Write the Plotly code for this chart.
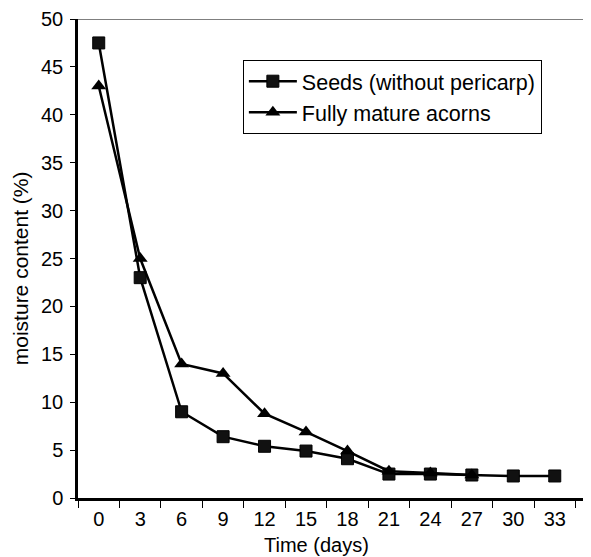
import plotly.graph_objects as go

days = ["0", "3", "6", "9", "12", "15", "18", "21", "24", "27", "30", "33"]
seeds = [47.5, 23.0, 9.0, 6.4, 5.4, 4.9, 4.1, 2.5, 2.5, 2.4, 2.3, 2.3]
acorn_days = ["0", "3", "6", "9", "12", "15", "18", "21", "24", "27"]
acorns = [43.0, 25.0, 14.0, 13.0, 8.8, 6.9, 4.9, 2.8, 2.6, 2.4]

font = "Liberation Sans, Arial, sans-serif"

fig = go.Figure()
fig.add_trace(go.Scatter(
    x=days, y=seeds, name="Seeds (without pericarp)", mode="lines+markers",
    line=dict(color="black", width=2.5),
    marker=dict(symbol="square", size=12, color="#111", line=dict(color="black", width=1)),
))
fig.add_trace(go.Scatter(
    x=acorn_days, y=acorns, name="Fully mature acorns", mode="lines+markers",
    line=dict(color="black", width=2.5),
    marker=dict(symbol="triangle-up", size=13, color="black"),
))

fig.update_layout(
    width=583, height=549,
    margin=dict(l=70, r=1, t=11, b=59, autoexpand=False),
    paper_bgcolor="white", plot_bgcolor="white",
    font=dict(family=font, size=20, color="black"),
    showlegend=True,
    legend=dict(x=0.322, y=0.915, xanchor="left", yanchor="top",
                bordercolor="black", borderwidth=1, bgcolor="white",
                font=dict(size=21.5), tracegroupgap=0, itemwidth=48),
    xaxis=dict(type="category", categoryorder="array", categoryarray=days,
               range=[-0.5, 11.85], autorange=False,
               showline=True, linecolor="black", linewidth=2.5, automargin=False,
               ticks="outside", tickson="boundaries", ticklen=7, tickcolor="black", tickwidth=1,
               showgrid=False, zeroline=False, tickfont=dict(size=20),
               ticklabelstandoff=1),
    yaxis=dict(range=[0, 50], dtick=5, showline=True, linecolor="black", linewidth=2.5,
               automargin=False, ticklabeloverflow="allow",
               ticks="outside", ticklen=5, tickcolor="black", tickwidth=1,
               showgrid=False, zeroline=False, tickfont=dict(size=20),
               ticklabelstandoff=3),
)
fig.add_shape(type="line", xref="paper", yref="y", x0=0, x1=1, y0=50, y1=50,
              line=dict(color="black", width=1))
fig.add_annotation(text="Time (days)", xref="paper", yref="paper", x=0.465, y=-0.098,
                   showarrow=False, font=dict(size=20), xanchor="center", yanchor="middle")
fig.add_annotation(text="moisture content (%)", xref="paper", yref="paper", x=-0.113, y=0.48,
                   textangle=-90, showarrow=False, font=dict(size=21),
                   xanchor="center", yanchor="middle")
fig.write_html("out.html")
